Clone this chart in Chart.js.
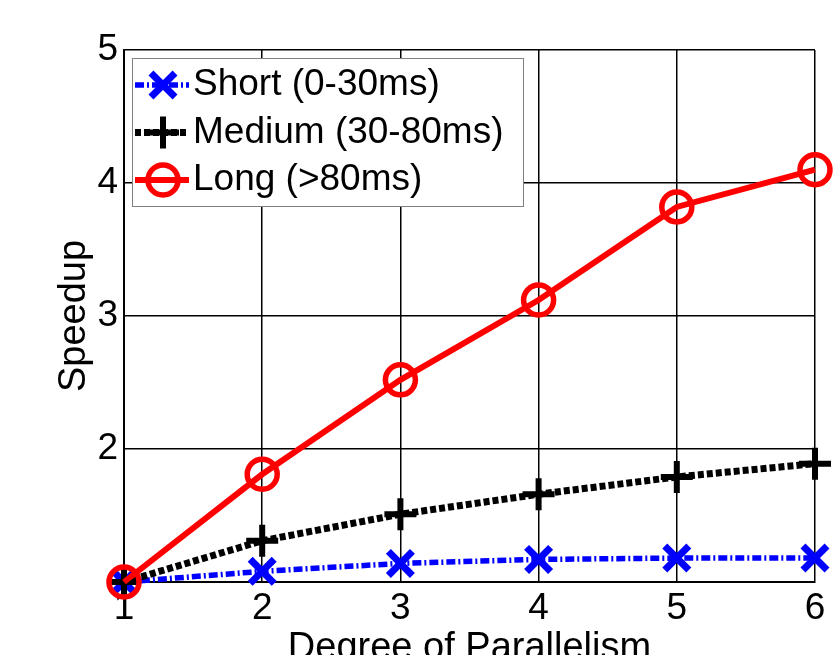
<!DOCTYPE html>
<html lang="en">
<head>
<meta charset="UTF-8">
<title>Speedup vs Degree of Parallelism</title>
<script src="https://cdn.jsdelivr.net/npm/chart.js"></script>
<style>
  html, body { margin: 0; padding: 0; background: #fff; overflow: hidden; }
  #wrap { width: 840px; height: 680px; position: relative; }
</style>
</head>
<body>
<div id="wrap"><canvas id="speedupChart"></canvas></div>
<script>
// x values: degree of parallelism
const degrees = [1, 2, 3, 4, 5, 6];
// speedup for each job length class
const shortSpeedup  = [1.00, 1.08, 1.14, 1.17, 1.18, 1.18];
const mediumSpeedup = [1.00, 1.31, 1.51, 1.66, 1.79, 1.89];
const longSpeedup   = [1.00, 1.81, 2.52, 3.12, 3.82, 4.10];
const seriesNames = ['Short (0-30ms)', 'Medium (30-80ms)', 'Long (>80ms)'];
const yTicks = [1, 2, 3, 4, 5];

const FONT = '"Liberation Sans", Arial, Helvetica, sans-serif';

const toPoints = vals => vals.map((v, i) => ({ x: degrees[i], y: v }));

// small helper to draw the same markers as the datasets
function drawMarker(ctx, style, r, x, y) {
    ctx.beginPath();
    if (style === 'circle') {
        ctx.arc(x, y, r, 0, Math.PI * 2);
    } else if (style === 'cross') {
        ctx.moveTo(x - r, y); ctx.lineTo(x + r, y);
        ctx.moveTo(x, y - r); ctx.lineTo(x, y + r);
    } else {
        const d = r * Math.SQRT1_2;
        ctx.moveTo(x - d, y - d); ctx.lineTo(x + d, y + d);
        ctx.moveTo(x - d, y + d); ctx.lineTo(x + d, y - d);
    }
    ctx.stroke();
}

// matlab style legend box inside the plot, top left
const boxLegend = {
    id: 'boxLegend',
    afterDraw(chart) {
        const ctx = chart.ctx;
        const area = chart.chartArea;
        const x0 = area.left + 8, y0 = area.top + 8, w = 391, h = 148;
        ctx.save();
        ctx.fillStyle = '#fff';
        ctx.fillRect(x0, y0, w, h);
        ctx.strokeStyle = '#808080';
        ctx.lineWidth = 1;
        ctx.strokeRect(x0 + 0.5, y0 + 0.5, w, h);
        chart.data.datasets.forEach((ds, i) => {
            const cy = y0 + 27 + i * 47.5;
            ctx.strokeStyle = ds.borderColor;
            ctx.lineWidth = ds.borderWidth;
            ctx.setLineDash(ds.borderDash || []);
            ctx.beginPath();
            ctx.moveTo(x0 + 3, cy);
            ctx.lineTo(x0 + 57, cy);
            ctx.stroke();
            ctx.setLineDash([]);
            ctx.lineWidth = ds.pointBorderWidth;
            drawMarker(ctx, ds.pointStyle, ds.pointRadius, x0 + 31, cy);
            ctx.fillStyle = '#000';
            ctx.font = '37px ' + FONT;
            ctx.textBaseline = 'middle';
            ctx.textAlign = 'left';
            ctx.fillText(ds.label, x0 + 61, cy);
        });
        ctx.restore();
    }
};

const ctx = document.getElementById('speedupChart').getContext('2d');
const speedupChart = new Chart(ctx, {
    type: 'line',
    data: {
        datasets: [
            {
                label: seriesNames[0],
                data: toPoints(shortSpeedup),
                borderColor: '#0000ff',
                borderWidth: 5.5,
                borderDash: [9, 3, 2, 3],
                pointStyle: 'crossRot',
                pointRadius: 17,
                pointBorderWidth: 7,
                pointBorderColor: '#0000ff',
                pointBackgroundColor: 'rgba(0,0,0,0)',
                order: 2,
                clip: false
            },
            {
                label: seriesNames[1],
                data: toPoints(mediumSpeedup),
                borderColor: '#000000',
                borderWidth: 7,
                borderDash: [6, 3],
                pointStyle: 'cross',
                pointRadius: 16,
                pointBorderWidth: 6,
                pointBorderColor: '#000000',
                pointBackgroundColor: 'rgba(0,0,0,0)',
                order: 1,
                clip: false
            },
            {
                label: seriesNames[2],
                data: toPoints(longSpeedup),
                borderColor: '#ff0000',
                borderWidth: 6,
                pointStyle: 'circle',
                pointRadius: 15,
                pointBorderWidth: 5.5,
                pointBorderColor: '#ff0000',
                pointBackgroundColor: 'rgba(0,0,0,0)',
                order: 0,
                clip: false
            }
        ]
    },
    options: {
        responsive: true,
        maintainAspectRatio: false,
        animation: false,
        layout: { padding: { top: 50, right: 25, left: 0, bottom: 0 } },
        elements: { line: { tension: 0 } },
        plugins: {
            legend: { display: false },
            tooltip: { enabled: false }
        },
        scales: {
            x: {
                type: 'linear',
                min: 1,
                max: 6,
                afterBuildTicks: s => { s.ticks = degrees.map(v => ({ value: v })); },
                afterFit: s => { s.height = 98; },
                ticks: {
                    color: '#000',
                    font: { size: 37, family: FONT },
                    padding: 5,
                    maxRotation: 0
                },
                grid: { color: '#000', lineWidth: 1.5, drawTicks: false },
                border: { color: '#000', width: 2 },
                title: {
                    display: true,
                    text: 'Degree of Parallelism',
                    color: '#000',
                    font: { size: 38, family: FONT },
                    padding: { top: 0, bottom: 9 }
                }
            },
            y: {
                type: 'linear',
                min: 1,
                max: 5,
                afterBuildTicks: s => { s.ticks = yTicks.map(v => ({ value: v })); },
                afterFit: s => { s.width = 124; },
                ticks: {
                    color: '#000',
                    font: { size: 37, family: FONT },
                    padding: 6,
                    callback: v => (v === 1 ? '' : v)
                },
                grid: { color: '#000', lineWidth: 1.5, drawTicks: false },
                border: { color: '#000', width: 2 },
                title: {
                    display: true,
                    text: 'Speedup',
                    color: '#000',
                    font: { size: 38, family: FONT },
                    padding: { top: 52, bottom: 0 }
                }
            }
        }
    },
    plugins: [boxLegend]
});
</script>
</body>
</html>
